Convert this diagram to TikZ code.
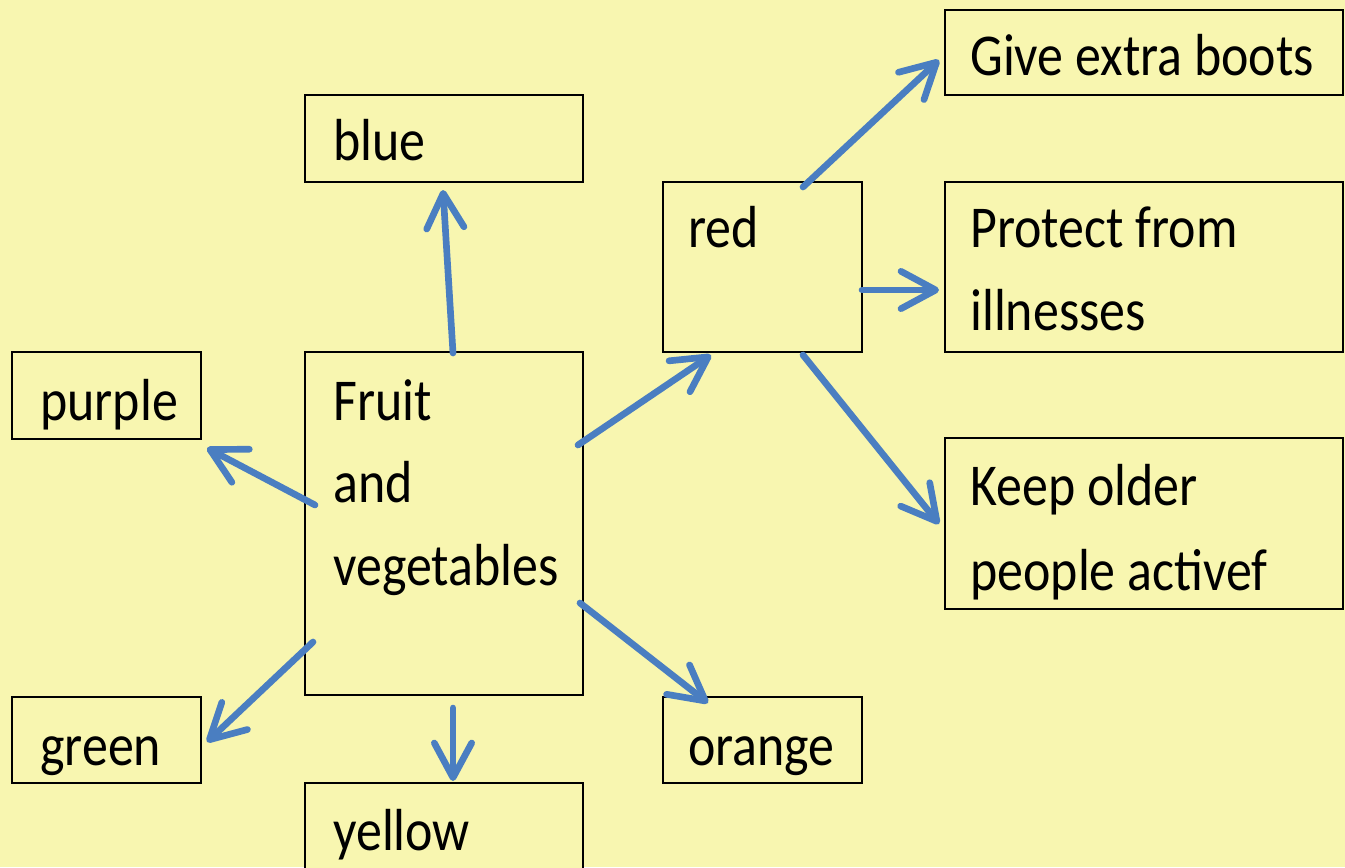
\documentclass[tikz,border=0pt]{standalone}
\usepackage{fontspec}
\setmainfont{Carlito}[FakeStretch=0.875]
\usetikzlibrary{arrows.meta}
\definecolor{bg}{RGB}{248,246,176}
\definecolor{arr}{RGB}{74,126,193}
\begin{document}
\begin{tikzpicture}[x=0.75pt,y=-0.75pt,
  box/.style={draw=black,line width=2pt,fill=bg,inner sep=0pt},
  txt/.style={anchor=base west,inner sep=0pt,font=\fontsize{44.5}{60}\selectfont},
  conn/.style={draw=arr,line width=5pt,line cap=round,
    -{Straight Barb[length=26pt,width=28pt,line width=5pt,round]}}]
\fill[bg] (0,0) rectangle (1345,867);
\useasboundingbox (0,0) rectangle (1345,867);
% boxes
\node[box,minimum width=208.5pt,minimum height=65.25pt] (blue) at (444,138.5) {};
\node[box,minimum width=208.5pt,minimum height=257.25pt] (fruit) at (444,523.5) {};
\node[box,minimum width=141.75pt,minimum height=65.25pt] (purple) at (106.5,395.5) {};
\node[box,minimum width=141.75pt,minimum height=64.5pt] (green) at (106.5,740) {};
\node[box,minimum width=208.5pt,minimum height=75pt] (yellow) at (444,833) {};
\node[box,minimum width=149.25pt,minimum height=127.5pt] (red) at (762.5,267) {};
\node[box,minimum width=149.25pt,minimum height=64.5pt] (orange) at (762.5,740) {};
\node[box,minimum width=298.5pt,minimum height=63.75pt] (give) at (1144,52.5) {};
\node[box,minimum width=298.5pt,minimum height=127.5pt] (protect) at (1144,267) {};
\node[box,minimum width=298.5pt,minimum height=128.25pt] (keep) at (1144,523.5) {};
% texts
\node[txt] (tblue) at (333,160) {blue};
\node[txt] (tf1) at (333,420) {Fruit};
\node[txt] (tf2) at (333,502) {and};
\node[txt] (tf3) at (333,585) {vegetables};
\node[txt] (tpurple) at (40,420) {purple};
\node[txt] (tgreen) at (40,765) {green};
\node[txt] (tyellow) at (333,850) {yellow};
\node[txt] (tred) at (688,247) {red};
\node[txt] (torange) at (688,765) {orange};
\node[txt] (tgive) at (970,75) {Give extra boots};
\node[txt] (tp1) at (970,247) {Protect from};
\node[txt] (tp2) at (970,330) {illnesses};
\node[txt] (tk1) at (970,505) {Keep older};
\node[txt] (tk2) at (970,590) {people activef};
% connector end points
\coordinate (a1) at (453,353); \coordinate (b1) at (443,190);
\coordinate (a2) at (315,505); \coordinate (b2) at (207,448);
\coordinate (a3) at (313,642); \coordinate (b3) at (207,742);
\coordinate (a4) at (453,708); \coordinate (b4) at (453,781);
\coordinate (a5) at (578,445); \coordinate (b5) at (711,355);
\coordinate (a6) at (580,603); \coordinate (b6) at (708,703);
\coordinate (a7) at (803,187); \coordinate (b7) at (939,60);
\coordinate (a8) at (862,290); \coordinate (b8) at (939,290);
\coordinate (a9) at (803,355); \coordinate (b9) at (939,524);
\draw[conn] (a1) -- (b1);
\draw[conn] (a2) -- (b2);
\draw[conn] (a3) -- (b3);
\draw[conn] (a4) -- (b4);
\draw[conn] (a5) -- (b5);
\draw[conn] (a6) -- (b6);
\draw[conn] (a7) -- (b7);
\draw[conn] (a8) -- (b8);
\draw[conn] (a9) -- (b9);
\end{tikzpicture}
\end{document}
